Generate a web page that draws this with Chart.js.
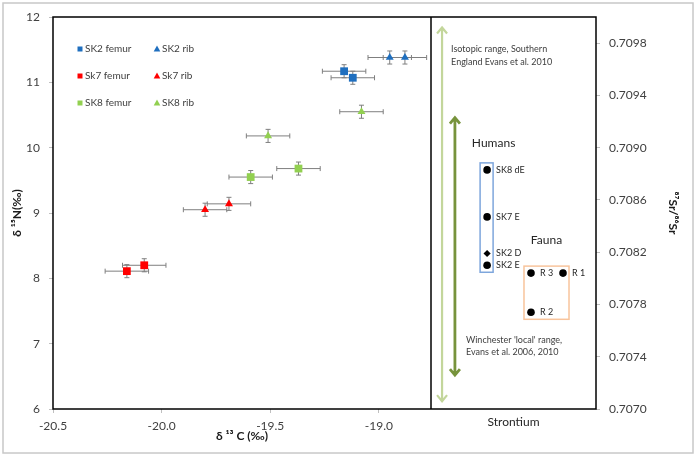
<!DOCTYPE html>
<html>
<head>
<meta charset="utf-8">
<script src="https://cdn.jsdelivr.net/npm/chart.js@4.4.1/dist/chart.umd.min.js"></script>
<style>
  html, body { margin: 0; padding: 0; background: #fff; }
</style>
</head>
<body>
<canvas id="isoChart" width="697" height="457"></canvas>
<script>
// carbon / nitrogen collagen values, two samples per series
const seriesNames = ['SK2 femur', 'SK2 rib', 'Sk7 femur', 'Sk7 rib', 'SK8 femur', 'SK8 rib'];
const seriesColors = ['#1f6fbf', '#1f6fbf', '#ff0000', '#ff0000', '#92d050', '#92d050'];
const carbonValues = [
    [-19.16, -19.12],
    [-18.95, -18.88],
    [-20.08, -20.16],
    [-19.69, -19.80],
    [-19.37, -19.59],
    [-19.08, -19.51]
];
const nitrogenValues = [
    [11.17, 11.07],
    [11.38, 11.38],
    [8.20, 8.11],
    [9.14, 9.05],
    [9.68, 9.55],
    [10.55, 10.18]
];
const carbonError = [0.1, 0.1, 0.1, 0.1, 0.1, 0.1];
const nitrogenError = [0.1, 0.1, 0.1, 0.1, 0.1, 0.1];

// strontium panel
const strLabels = ['SK8 dE', 'SK7 E', 'SK2 D', 'SK2 E', 'R 3', 'R 1', 'R 2'];
const strGroup = ['Humans', 'Humans', 'Humans', 'Humans', 'Fauna', 'Fauna', 'Fauna'];
const strColumn = [3.4, 3.4, 3.4, 3.4, 6.06, 8.0, 6.06];
const strValues = [0.70883, 0.70847, 0.70819, 0.70810, 0.70804, 0.70804, 0.70774];
const strTicks = [0.7070, 0.7074, 0.7078, 0.7082, 0.7086, 0.7090, 0.7094, 0.7098];

// reference ranges drawn as double arrows
const rangeText = [
    ['Isotopic range, Southern', 'England Evans et al. 2010'],
    ["Winchester 'local' range,", 'Evans et al. 2006, 2010']
];
const rangeColumn = [0.67, 1.45];
const rangeLow = [0.70706, 0.70726];
const rangeHigh = [0.70992, 0.70923];

const isSquare = name => name.indexOf('femur') >= 0;

const datasets = seriesNames.map((name, i) => ({
    label: name,
    data: carbonValues[i].map((c, j) => ({ x: c, y: nitrogenValues[i][j] })),
    xAxisID: 'x',
    yAxisID: 'y',
    pointStyle: isSquare(name) ? 'rect' : 'triangle',
    pointRadius: isSquare(name) ? 5.5 : 4.6,
    backgroundColor: seriesColors[i],
    borderColor: seriesColors[i],
    borderWidth: 0
}));

datasets.push({
    label: 'Strontium',
    data: strValues.map((v, i) => ({ x: strColumn[i], y: v })),
    xAxisID: 'x2',
    yAxisID: 'y2',
    pointStyle: ctx => (strLabels[ctx.dataIndex] || '').endsWith(' D') ? 'rectRot' : 'circle',
    pointRadius: ctx => (strLabels[ctx.dataIndex] || '').endsWith(' D') ? 3.6 : 3.8,
    backgroundColor: '#000',
    borderColor: '#000',
    borderWidth: 0
});

// frame, divider, error bars, arrows and group boxes under the points
const decorPlugin = {
    id: 'decor',
    beforeDraw(chart) {
        const ctx = chart.ctx;
        ctx.save();
        ctx.fillStyle = '#fff';
        ctx.fillRect(0, 0, chart.width, chart.height);
        ctx.strokeStyle = '#c8c8c8';
        ctx.lineWidth = 1.5;
        ctx.strokeRect(3, 3, chart.width - 7, chart.height - 7);
        ctx.restore();
    },
    beforeDatasetsDraw(chart) {
        const { ctx, chartArea: a, scales } = chart;
        const { x, y, x2, y2 } = scales;
        ctx.save();

        // error bars
        ctx.strokeStyle = '#7f7f7f';
        ctx.lineWidth = 1;
        seriesNames.forEach((name, i) => {
            carbonValues[i].forEach((c, j) => {
                const n = nitrogenValues[i][j];
                const px = x.getPixelForValue(c), py = y.getPixelForValue(n);
                const xl = x.getPixelForValue(c - carbonError[i]), xr = x.getPixelForValue(c + carbonError[i]);
                const yt = y.getPixelForValue(n + nitrogenError[i]), yb = y.getPixelForValue(n - nitrogenError[i]);
                ctx.beginPath();
                ctx.moveTo(xl, py); ctx.lineTo(xr, py);
                ctx.moveTo(xl, py - 2.5); ctx.lineTo(xl, py + 2.5);
                ctx.moveTo(xr, py - 2.5); ctx.lineTo(xr, py + 2.5);
                ctx.moveTo(px, yt); ctx.lineTo(px, yb);
                ctx.moveTo(px - 2.5, yt); ctx.lineTo(px + 2.5, yt);
                ctx.moveTo(px - 2.5, yb); ctx.lineTo(px + 2.5, yb);
                ctx.stroke();
            });
        });

        // range arrows
        const arrowColors = ['#c3d69b', '#77933c'];
        const arrowWidths = [2.2, 2.8];
        rangeLow.forEach((lo, i) => {
            const ax = x2.getPixelForValue(rangeColumn[i]);
            const top = y2.getPixelForValue(rangeHigh[i]);
            const bot = y2.getPixelForValue(lo);
            ctx.strokeStyle = arrowColors[i];
            ctx.lineWidth = arrowWidths[i];
            ctx.lineCap = 'butt';
            ctx.beginPath();
            ctx.moveTo(ax, top + 1); ctx.lineTo(ax, bot - 1);
            ctx.moveTo(ax - 5, top + 6); ctx.lineTo(ax, top); ctx.lineTo(ax + 5, top + 6);
            ctx.moveTo(ax - 5, bot - 6); ctx.lineTo(ax, bot); ctx.lineTo(ax + 5, bot - 6);
            ctx.stroke();
        });

        // range notes
        ctx.fillStyle = '#404040';
        ctx.font = '9px Lato, sans-serif';
        ctx.textBaseline = 'middle';
        ctx.textAlign = 'left';
        const note0x = x2.getPixelForValue(rangeColumn[0]) + 9;
        const note0y = y2.getPixelForValue(rangeHigh[0]) + 22;
        ctx.fillText(rangeText[0][0], note0x, note0y);
        ctx.fillText(rangeText[0][1], note0x, note0y + 13);
        const note1x = x2.getPixelForValue(rangeColumn[1]) + 11;
        const note1y = y2.getPixelForValue(rangeLow[1]) - 35;
        ctx.fillText(rangeText[1][0], note1x, note1y);
        ctx.fillText(rangeText[1][1], note1x, note1y + 12);

        // group boxes
        const groups = ['Humans', 'Fauna'];
        const boxColors = { Humans: '#7ea6dc', Fauna: '#f8c49c' };
        const titleShift = { Humans: [7, -20], Fauna: [0, -26] };
        groups.forEach(g => {
            let l = Infinity, r = -Infinity, t = Infinity, b = -Infinity;
            strValues.forEach((v, i) => {
                if (strGroup[i] !== g) return;
                const px = x2.getPixelForValue(strColumn[i]);
                const py = y2.getPixelForValue(v);
                l = Math.min(l, px); r = Math.max(r, px);
                t = Math.min(t, py); b = Math.max(b, py);
            });
            l -= 7; r += 6; t -= 7; b += 7;
            ctx.strokeStyle = boxColors[g];
            ctx.lineWidth = 1.5;
            ctx.strokeRect(l, t, r - l, b - t);
            ctx.fillStyle = '#262626';
            ctx.font = '12px Lato, sans-serif';
            ctx.textAlign = 'center';
            ctx.fillText(g, (l + r) / 2 + titleShift[g][0], t + titleShift[g][1]);
        });

        // plot frame and divider
        ctx.strokeStyle = '#000';
        ctx.lineWidth = 1.5;
        ctx.strokeRect(a.left, a.top, a.right - a.left, a.bottom - a.top);
        ctx.beginPath();
        ctx.moveTo(x.right, a.top);
        ctx.lineTo(x.right, a.bottom);
        ctx.stroke();
        ctx.restore();
    },
    afterDatasetsDraw(chart) {
        const { ctx, chartArea: a, scales: { x2, y2 } } = chart;
        ctx.save();
        // point labels on strontium panel
        ctx.fillStyle = '#262626';
        ctx.font = '9px Lato, sans-serif';
        ctx.textAlign = 'left';
        ctx.textBaseline = 'middle';
        strValues.forEach((v, i) => {
            ctx.fillText(strLabels[i], x2.getPixelForValue(strColumn[i]) + 9, y2.getPixelForValue(v));
        });

        // legend, two columns by three rows
        ctx.font = '10px Lato, sans-serif';
        ctx.fillStyle = '#404040';
        seriesNames.forEach((name, i) => {
            const col = i % 2, row = Math.floor(i / 2);
            const mx = a.left + 27 + col * 77;
            const my = a.top + 32 + row * 27;
            ctx.fillStyle = seriesColors[i];
            ctx.beginPath();
            if (isSquare(name)) {
                ctx.rect(mx - 2.5, my - 2.5, 5, 5);
            } else {
                ctx.moveTo(mx, my - 3.5);
                ctx.lineTo(mx + 3.3, my + 2.5);
                ctx.lineTo(mx - 3.3, my + 2.5);
                ctx.closePath();
            }
            ctx.fill();
            ctx.fillStyle = '#404040';
            ctx.fillText(name, mx + 5, my);
        });
        ctx.restore();
    }
};

Chart.defaults.font.family = "Lato, 'Open Sans', sans-serif";
Chart.defaults.color = '#404040';

const isoChart = new Chart(document.getElementById('isoChart'), {
    type: 'scatter',
    data: { datasets: datasets },
    options: {
        responsive: false,
        animation: false,
        layout: { padding: { top: 17, left: 0, right: 0, bottom: 0 } },
        plugins: { legend: { display: false }, tooltip: { enabled: false } },
        scales: {
            x: {
                type: 'linear',
                position: 'bottom',
                stack: 'bottomRow',
                stackWeight: 378,
                min: -20.5,
                max: -18.76,
                ticks: {
                    stepSize: 0.5, includeBounds: false, padding: 6, maxRotation: 0, autoSkip: false,
                    font: { size: 12 }, color: '#404040',
                    callback: v => v.toFixed(1)
                },
                grid: { drawOnChartArea: false, tickLength: 4, color: '#bfbfbf' },
                border: { display: false },
                title: {
                    display: true, text: 'δ ¹³ C (‰)', color: '#1a1a1a',
                    font: { size: 12, weight: 'bold' }, padding: { top: 0, bottom: 14 }
                },
                afterFit: s => { s.height = 48; }
            },
            x2: {
                type: 'linear',
                position: 'bottom',
                stack: 'bottomRow',
                stackWeight: 165,
                min: 0,
                max: 10,
                ticks: { display: false },
                grid: { display: false },
                border: { display: false },
                title: {
                    display: true, text: 'Strontium', color: '#262626',
                    font: { size: 12 }, padding: { top: 0, bottom: 28 }
                },
                afterFit: s => { s.height = 48; }
            },
            y: {
                type: 'linear',
                position: 'left',
                min: 6,
                max: 12,
                ticks: { stepSize: 1, padding: 9, font: { size: 12 }, color: '#404040' },
                grid: { drawOnChartArea: false, tickLength: 4, color: '#bfbfbf' },
                border: { display: false },
                title: {
                    display: true, text: 'δ ¹⁵N(‰)', color: '#1a1a1a',
                    font: { size: 12, weight: 'bold' }, padding: { top: 10, bottom: 0 }
                },
                afterFit: s => { s.width = 53; }
            },
            y2: {
                type: 'linear',
                position: 'right',
                min: 0.707,
                max: 0.71,
                ticks: {
                    padding: 9, font: { size: 12 }, color: '#404040',
                    callback: v => v.toFixed(4)
                },
                afterBuildTicks: s => { s.ticks = strTicks.map(v => ({ value: v })); },
                grid: { drawOnChartArea: false, tickLength: 4, color: '#bfbfbf' },
                border: { display: false },
                title: {
                    display: true, text: '⁸⁷Sr/⁸⁶Sr', color: '#1a1a1a',
                    font: { size: 12, weight: 'bold' }, padding: { top: 17, bottom: 0 }
                },
                afterFit: s => { s.width = 101; }
            }
        }
    },
    plugins: [decorPlugin]
});
</script>
</body>
</html>
